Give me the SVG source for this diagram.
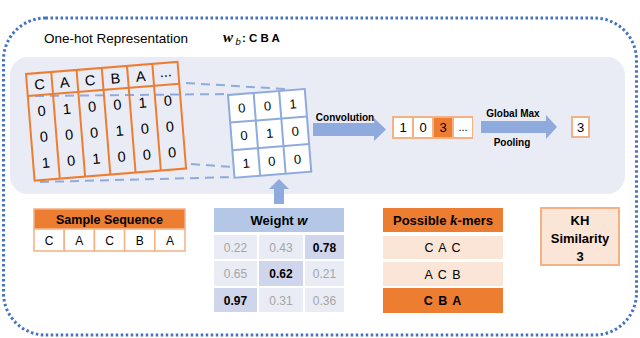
<svg xmlns="http://www.w3.org/2000/svg" width="640" height="338" viewBox="0 0 640 338">
<style>
text{font-family:"Liberation Sans",Arial,sans-serif;fill:#000}
.b{font-weight:bold}
.c{text-anchor:middle}
.ot{fill:none;stroke:#ED7D31;stroke-width:2}
.bl{fill:#fff;stroke:#8FAADC;stroke-width:2}
.dash{fill:none;stroke:#8FAADC;stroke-width:2;stroke-dasharray:9 6}
.arr{fill:#8FAADC}
.wc{fill:#E9EBF5}
.wh{fill:#CFD5EA}
.g{fill:#A6A6A6}
.om{fill:#ED7D31}
.ol{fill:#FBE5D6}
.math{font-family:"Liberation Serif","Times New Roman",serif;font-style:italic;font-weight:bold}
</style>
<rect x="3.5" y="18" width="633" height="317" rx="42" fill="none" stroke="#4472C4" stroke-width="3" stroke-dasharray="2.5 2.5"/>
<rect x="10" y="57" width="615" height="137" rx="18" fill="#E9EBF5"/>
<g id="title">
<text x="44" y="43" font-size="13.5">One-hot Representation</text>
<text x="223" y="42" font-size="15" class="math">w</text>
<text x="235.5" y="45" font-size="9.5" font-family="Liberation Serif,serif" font-style="italic">b</text>
<text x="242" y="42" font-size="11.5" class="b">: C B A</text>
</g>
<g id="connectors">
<line class="dash" x1="186" y1="83" x2="285" y2="89"/>
<line class="dash" x1="35" y1="96" x2="227" y2="94"/>
<line class="dash" x1="191" y1="164" x2="233" y2="167"/>
<line class="dash" x1="40" y1="182" x2="234" y2="177"/>
<polygon class="arr" points="274,204 284,204 284,189 289,189 279,179 269,189 274,189"/>
<polygon class="arr" points="313,123 374,123 374,118 386,129.5 374,141 374,136 313,136"/>
<polygon class="arr" points="481,121 546,121 546,115 557,127 546,139 546,133 481,133"/>
</g>
<g id="onehot" transform="translate(26,74) rotate(-4.6)">
<rect class="ot" x="0" y="0" width="152" height="107"/>
<line class="ot" x1="0" y1="22" x2="152" y2="22"/>
<line class="ot" x1="25.3" y1="0" x2="25.3" y2="107"/>
<line class="ot" x1="50.7" y1="0" x2="50.7" y2="107"/>
<line class="ot" x1="76" y1="0" x2="76" y2="107"/>
<line class="ot" x1="101.3" y1="0" x2="101.3" y2="107"/>
<line class="ot" x1="126.7" y1="0" x2="126.7" y2="107"/>
<g font-size="14.5">
<text class="c" x="12.7" y="16.5">C</text><text class="c" x="38" y="16.5">A</text><text class="c" x="63.3" y="16.5">C</text><text class="c" x="88.7" y="16.5">B</text><text class="c" x="114" y="16.5">A</text><text class="c" x="139.3" y="14">...</text>
<text class="c" x="12.7" y="43">0</text><text class="c" x="38" y="43">1</text><text class="c" x="63.3" y="43">0</text><text class="c" x="88.7" y="43">0</text><text class="c" x="114" y="43">1</text><text class="c" x="139.3" y="43">0</text>
<text class="c" x="12.7" y="69">0</text><text class="c" x="38" y="69">0</text><text class="c" x="63.3" y="69">0</text><text class="c" x="88.7" y="69">1</text><text class="c" x="114" y="69">0</text><text class="c" x="139.3" y="69">0</text>
<text class="c" x="12.7" y="95">1</text><text class="c" x="38" y="95">0</text><text class="c" x="63.3" y="95">1</text><text class="c" x="88.7" y="95">0</text><text class="c" x="114" y="95">0</text><text class="c" x="139.3" y="95">0</text>
</g>
</g>
<g id="filter" transform="translate(228,95) rotate(-4.5)">
<rect class="bl" x="0" y="0" width="77" height="83"/>
<line class="bl" x1="25.7" y1="0" x2="25.7" y2="83"/>
<line class="bl" x1="51.3" y1="0" x2="51.3" y2="83"/>
<line class="bl" x1="0" y1="27.7" x2="77" y2="27.7"/>
<line class="bl" x1="0" y1="55.3" x2="77" y2="55.3"/>
<g font-size="13">
<text class="c" x="12.8" y="18.5">0</text><text class="c" x="38.5" y="18.5">0</text><text class="c" x="64.2" y="18.5">1</text>
<text class="c" x="12.8" y="46">0</text><text class="c" x="38.5" y="46">1</text><text class="c" x="64.2" y="46">0</text>
<text class="c" x="12.8" y="74">1</text><text class="c" x="38.5" y="74">0</text><text class="c" x="64.2" y="74">0</text>
</g>
</g>
<g id="conv-label">
<text class="b c" x="345" y="121" font-size="10">Convolution</text>
</g>
<g id="feature-map">
<rect x="392" y="116" width="81" height="23" fill="#F4B183"/>
<rect x="394" y="118" width="18" height="19" fill="#fff"/>
<rect x="414" y="118" width="18" height="19" fill="#fff"/>
<rect x="434" y="118" width="18" height="19" class="om"/>
<rect x="454" y="118" width="18" height="19" fill="#fff"/>
<g font-size="13">
<text class="c" x="403" y="132">1</text><text class="c" x="423" y="132">0</text><text class="c" x="443" y="132">3</text><text class="c" x="463" y="131" font-size="11">...</text>
</g>
</g>
<g id="pool-label">
<text class="b c" x="513" y="117" font-size="10">Global Max</text>
<text class="b c" x="512" y="146" font-size="10">Pooling</text>
</g>
<g id="result">
<rect x="572" y="117" width="17" height="20" fill="#fff" stroke="#F4B183" stroke-width="2"/>
<text class="c" x="580.5" y="132" font-size="13">3</text>
</g>
<g id="sample-sequence">
<rect x="34" y="209" width="151" height="20" class="om" stroke="#F4B183" stroke-width="1.5"/>
<text class="b c" x="109.5" y="223.5" font-size="12.5">Sample Sequence</text>
<g fill="#fff" stroke="#F4B183" stroke-width="1.5">
<rect x="34" y="229" width="30.2" height="22"/><rect x="64.2" y="229" width="30.2" height="22"/><rect x="94.4" y="229" width="30.2" height="22"/><rect x="124.6" y="229" width="30.2" height="22"/><rect x="154.8" y="229" width="30.2" height="22"/>
</g>
<g font-size="12">
<text class="c" x="49.1" y="244.5">C</text><text class="c" x="79.3" y="244.5">A</text><text class="c" x="109.5" y="244.5">C</text><text class="c" x="139.7" y="244.5">B</text><text class="c" x="169.9" y="244.5">A</text>
</g>
</g>
<g id="weight">
<rect x="214" y="208" width="130" height="24" fill="#B4C7E7"/>
<text class="b c" x="279" y="225" font-size="13">Weight <tspan font-style="italic">w</tspan></text>
<rect class="wc" x="214" y="235" width="43" height="24"/><rect class="wc" x="259" y="235" width="44" height="24"/><rect class="wh" x="305" y="235" width="39" height="24"/>
<rect class="wc" x="214" y="261" width="43" height="25"/><rect class="wh" x="259" y="261" width="44" height="25"/><rect class="wc" x="305" y="261" width="39" height="25"/>
<rect class="wh" x="214" y="288" width="43" height="24"/><rect class="wc" x="259" y="288" width="44" height="24"/><rect class="wc" x="305" y="288" width="39" height="24"/>
<g font-size="12">
<text class="c g" x="235.5" y="251.5">0.22</text><text class="c g" x="281" y="251.5">0.43</text><text class="c b" x="324.5" y="251.5">0.78</text>
<text class="c g" x="235.5" y="278">0.65</text><text class="c b" x="281" y="278">0.62</text><text class="c g" x="324.5" y="278">0.21</text>
<text class="c b" x="235.5" y="304.5">0.97</text><text class="c g" x="281" y="304.5">0.31</text><text class="c g" x="324.5" y="304.5">0.36</text>
</g>
</g>
<g id="kmers">
<rect x="383" y="208" width="120" height="24" class="om"/>
<text class="b c" x="443" y="225" font-size="13">Possible <tspan class="math" font-size="15">k</tspan>-mers</text>
<rect x="383" y="236" width="120" height="23" class="ol"/>
<rect x="383" y="262" width="120" height="24" class="ol"/>
<rect x="383" y="288" width="120" height="25" class="om"/>
<text class="c" x="443" y="252" font-size="12.5" letter-spacing="1">C A C</text>
<text class="c" x="443" y="278.5" font-size="12.5" letter-spacing="1">A C B</text>
<text class="c b" x="443" y="305" font-size="12.5" letter-spacing="1">C B A</text>
</g>
<g id="kh-similarity">
<rect x="541" y="208" width="78" height="57" class="ol" stroke="#F4B183" stroke-width="2"/>
<g font-size="13">
<text class="c b" x="580" y="225">KH</text>
<text class="c b" x="580" y="243">Similarity</text>
<text class="c b" x="580" y="261">3</text>
</g>
</g>
</svg>
